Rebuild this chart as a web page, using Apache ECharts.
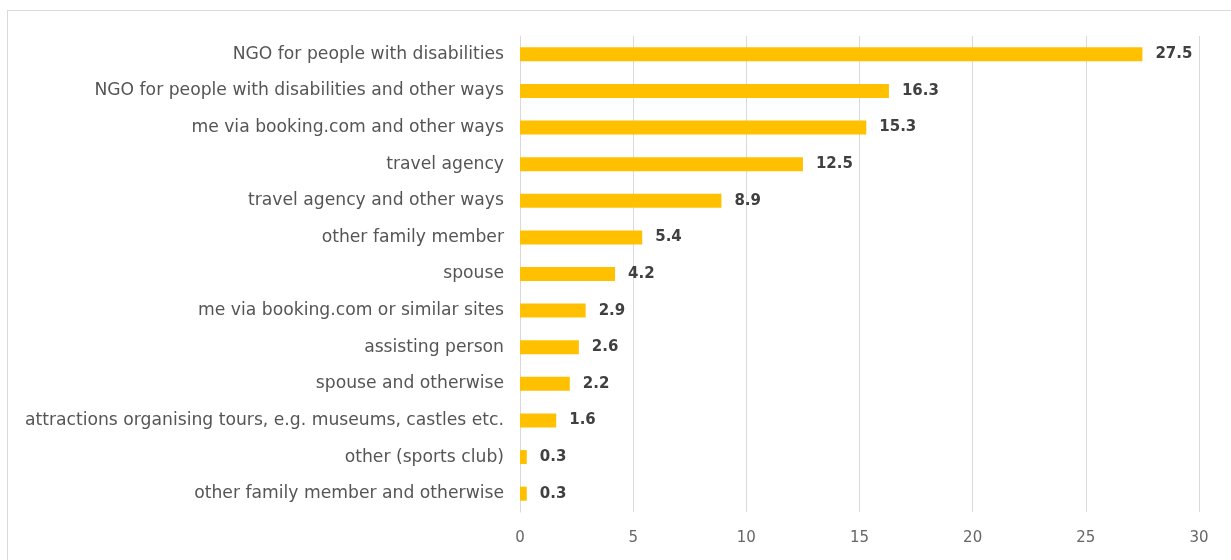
<!DOCTYPE html>
<html>
<head>
<meta charset="utf-8">
<script src="https://cdn.jsdelivr.net/npm/echarts@6/dist/echarts.min.js"></script>
<style>
  html, body { margin: 0; padding: 0; background: #fff; }
  #frame { position: absolute; left: 7px; top: 10px; width: 1240px; height: 570px; border: 1px solid #d9d9d9; box-sizing: border-box; }
  #chart { position: absolute; left: 0; top: 0; width: 1231px; height: 560px; }
</style>
</head>
<body>
<div id="frame"></div>
<div id="chart"></div>
<script>
// Who organised the trip (% of respondents)
const categories = [
  'NGO for people with disabilities',
  'NGO for people with disabilities and other ways',
  'me via booking.com and other ways',
  'travel agency',
  'travel agency and other ways',
  'other family member',
  'spouse',
  'me via booking.com or similar sites',
  'assisting person',
  'spouse and otherwise',
  'attractions organising tours, e.g. museums, castles etc.',
  'other (sports club)',
  'other family member and otherwise'
];
const values = [27.5, 16.3, 15.3, 12.5, 8.9, 5.4, 4.2, 2.9, 2.6, 2.2, 1.6, 0.3, 0.3];
const xTicks = { min: 0, max: 30, interval: 5 };

const font = '"DejaVu Sans", "Open Sans", sans-serif';
const chart = echarts.init(document.getElementById('chart'), null, { renderer: 'canvas' });
chart.setOption({
  animation: false,
  grid: { left: 520, right: 32, top: 36, bottom: 48, containLabel: false },
  xAxis: {
    type: 'value',
    min: xTicks.min, max: xTicks.max, interval: xTicks.interval,
    axisLine: { show: false },
    axisTick: { show: false },
    splitLine: { show: true, lineStyle: { color: '#d9d9d9', width: 1 } },
    axisLabel: { color: '#666666', fontSize: 15, fontFamily: font, margin: 19 }
  },
  yAxis: {
    type: 'category',
    data: categories,
    inverse: true,
    axisLine: { show: true, lineStyle: { color: '#d9d9d9' } },
    axisTick: { show: false },
    axisLabel: { color: '#555555', fontSize: 17.2, fontFamily: font, margin: 16 }
  },
  series: [{
    type: 'bar',
    data: values,
    barWidth: 14,
    itemStyle: { color: '#FFC000' },
    label: {
      show: true, position: 'right', distance: 13,
      color: '#404040', fontSize: 15, fontWeight: 'bold', fontFamily: font,
      formatter: p => p.value.toFixed(1)
    }
  }]
});
</script>
</body>
</html>
